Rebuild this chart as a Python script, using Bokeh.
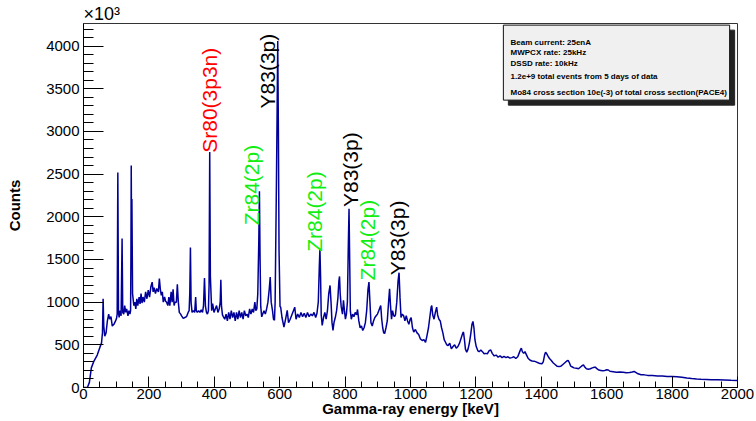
import math

from bokeh.core.properties import value
from bokeh.embed import file_html
from bokeh.models import BoxAnnotation, ColumnDataSource, Label, Range1d, SingleIntervalTicker, Title
from bokeh.plotting import figure
from bokeh.resources import INLINE

# Gamma-ray spectrum: energy (keV) and counts (in units of 10^3)
energy_kev = [
    0, 12, 18, 24, 32, 42, 50, 55, 58, 60, 62, 65, 69, 73, 77, 80, 84, 88, 93, 98,
    101, 103, 105, 107, 109, 112, 115, 118, 120, 123, 126, 129, 132, 136, 139, 142, 144,
    145, 146, 147, 148, 150, 154, 157,
    160, 163, 166, 170, 173, 176, 179, 182, 186, 190, 194, 198, 202, 206, 210, 213, 216,
    220, 224, 229, 232, 235, 238, 241, 244, 248, 251, 254, 258, 261, 264, 268, 271, 274,
    277, 280, 284, 287, 290, 293, 297,
    300, 305, 310, 315, 320, 323, 325, 327, 329, 332, 336, 340, 343, 345, 348, 352, 356,
    360, 364, 367, 370, 373, 376, 379, 382, 384, 386, 388, 392, 395, 399, 403, 407, 411,
    415, 418, 420, 422, 425, 428,
    432, 436, 440, 444, 448, 452, 456, 460, 464, 468, 472, 476, 480, 484, 488, 492, 496,
    500, 504, 508, 512, 516, 520, 524, 527, 530, 533, 536, 538, 540, 542, 545, 548, 552,
    556, 560, 564, 568, 571, 574, 578, 581, 584, 586, 590, 592, 594, 596, 598, 601,
    603, 607, 613, 618, 623, 627, 632, 637, 642, 646, 650, 655, 660, 665, 670, 675, 680,
    685, 690, 695, 700, 705, 710, 714, 718, 721, 723, 725, 727, 730, 734, 738, 742, 746,
    750, 754, 757, 760, 763, 766, 770, 774, 778, 781, 783, 785, 788, 792, 795, 798, 801,
    804, 807, 810, 812, 814, 816, 819, 823, 827, 831, 835, 838, 842, 846, 850, 854, 858,
    862, 866, 870, 873, 876, 879, 883, 887, 891, 895, 899, 903, 906, 909, 912, 915, 918,
    921, 925, 929, 933, 936, 939, 942, 945, 948, 951, 954, 958, 962, 965, 968, 971, 975,
    979, 983, 987, 991, 995, 999,
    1002, 1006, 1010, 1015, 1020, 1025, 1030, 1036, 1041, 1046, 1050, 1055, 1060, 1063,
    1065, 1068, 1072, 1076, 1080, 1083, 1087, 1091, 1095, 1099, 1103, 1107, 1111, 1115,
    1120, 1125, 1130, 1135, 1140, 1145, 1150, 1155, 1160, 1162, 1165, 1168, 1172, 1176,
    1180, 1184, 1188, 1191, 1194, 1197, 1201, 1206, 1210, 1215,
    1220, 1225, 1230, 1235, 1240, 1245, 1250, 1256, 1262, 1268, 1274, 1280, 1286, 1292,
    1298, 1304, 1310, 1316, 1322, 1328, 1332, 1336, 1339, 1342, 1346, 1350, 1355, 1360,
    1366, 1372, 1378, 1384, 1390, 1396, 1402, 1406, 1410, 1413, 1416, 1420, 1425, 1430,
    1436, 1442, 1448, 1454, 1460, 1466, 1472, 1478, 1482, 1486, 1490, 1495, 1500, 1508,
    1514, 1520, 1526, 1529, 1533, 1538, 1544, 1550, 1556, 1562, 1566, 1570, 1576, 1582,
    1588, 1594, 1600, 1605, 1610, 1620, 1630, 1640, 1650, 1660, 1670, 1678, 1684, 1690,
    1696, 1705, 1715, 1725, 1740, 1755, 1770, 1785, 1800, 1815, 1830, 1845, 1860, 1875,
    1888, 1905, 1920, 1940, 1960, 1980, 2000,
]
counts_k = [
    0, 0, 60, 230, 310, 380, 470, 520, 640, 1040, 720, 600, 640, 780, 860, 800, 830, 720, 740, 780,
    810, 860, 2520, 880, 820, 900, 840, 1745, 880, 860, 960, 880, 920, 840, 900, 860, 900,
    1500, 2600, 1700, 2210, 1100, 960, 1000,
    920, 1040, 960, 1060, 980, 1100, 990, 1060, 1000, 1120, 1040, 1140, 1060, 1180, 1235, 1120, 1170,
    1100, 1160, 1120, 1277, 1150, 1080, 1120, 1000, 1060, 1010, 1000, 960, 1060, 960, 1120, 1000, 1150,
    960, 1000, 1000, 1208, 1000, 880, 860,
    840, 810, 820, 830, 880, 900, 1100, 1641, 1000, 880, 900, 880, 1059, 900, 880, 900, 880,
    910, 880, 960, 1282, 950, 880, 860, 900, 1200, 2758, 1300, 900, 983, 880, 920, 960, 880,
    920, 1000, 1262, 950, 850, 828,
    800, 860, 780, 880, 800, 900, 820, 880, 780, 880, 800, 900, 820, 880, 800, 900, 840,
    860, 820, 920, 860, 920, 880, 1000, 900, 920, 1100, 1700, 2298, 1500, 950, 828, 860, 900,
    860, 920, 1000, 1150, 1293, 1000, 900, 800, 789, 1000, 2400, 3190, 4060, 3000, 1600, 950,
    941, 820, 707, 800, 903, 760, 800, 850, 900, 941, 800, 860, 820, 880, 830, 870, 820,
    880, 830, 860, 840, 880, 820, 870, 1000, 1400, 1626, 1300, 850, 727, 820, 880, 800, 900,
    1100, 1196, 1000, 760, 668, 760, 820, 900, 1050, 1250, 1301, 1100, 950, 860, 1022, 900, 800,
    860, 1000, 1700, 2095, 1500, 900, 800, 860, 830, 880, 850, 914, 780, 700, 720, 668, 700,
    760, 900, 1150, 1235, 1000, 760, 720, 780, 820, 840, 860, 900, 930, 961, 800, 700, 640,
    633, 700, 780, 1000, 1157, 950, 800, 900, 850, 830, 850, 1000, 1250, 1345, 1050, 820, 860,
    840, 780, 840, 780, 740, 800,
    820, 700, 649, 680, 640, 620, 570, 551, 560, 530, 600, 700, 850, 940,
    961, 850, 800, 880, 941, 850, 800, 780, 700, 640, 560, 530, 500, 492,
    520, 453, 480, 500, 460, 480, 520, 580, 640, 649, 560, 450, 414, 450,
    520, 620, 740, 774, 700, 560, 480, 430, 420, 440,
    420, 395, 400, 395, 430, 442, 400, 370, 380, 355, 370, 350, 365, 350,
    360, 345, 350, 360, 340, 360, 400, 440, 461, 420, 400, 420, 380, 340,
    320, 310, 309, 300, 290, 280, 278, 300, 380, 414, 400, 370, 340, 320,
    290, 270, 250, 246, 250, 270, 290, 310, 317, 290, 250, 240, 230, 225,
    219, 240, 260, 266, 240, 220, 215, 220, 230, 238, 236, 220, 205, 200,
    195, 200, 207, 205, 190, 185, 180, 182, 178, 172, 176, 182, 188, 175,
    160, 150, 148, 142, 140, 136, 134, 130, 129, 126, 120, 112, 105, 100,
    97, 95, 92, 90, 87, 84, 82,
]

# Isotope tags placed above their gamma lines
tag_text = ["Sr80(3p3n)", "Zr84(2p)", "Y83(3p)", "Zr84(2p)", "Y83(3p)", "Zr84(2p)", "Y83(3p)"]
tag_kev = [386, 513, 562, 705, 818, 868, 960]
tag_counts = [2750, 1900, 3270, 1590, 2115, 1255, 1315]
tag_color = ["#ff0000", "#11ee11", "#000000", "#11ee11", "#000000", "#11ee11", "#000000"]

# Run conditions shown in the info pave
info_lines = [
    "Beam current: 25enA",
    "MWPCX rate: 25kHz",
    "DSSD rate: 10kHz",
    "1.2e+9 total events from 5 days of data",
    "Mo84 cross section 10e(-3) of total cross section(PACE4)",
]
info_line_counts = [4038, 3925, 3796, 3639, 3456]

X_MAX = 2000
Y_MAX = 4265
FONT = "Liberation Sans"

p = figure(
    width=756, height=421,
    x_range=Range1d(0, X_MAX), y_range=Range1d(0, Y_MAX),
    output_backend="svg", toolbar_location=None,
    min_border_left=83, min_border_right=19, min_border_top=23, min_border_bottom=34,
    background_fill_color="white", border_fill_color="white",
)
p.grid.visible = False
p.outline_line_color = "#333333"
p.outline_line_width = 1

p.xaxis.ticker = SingleIntervalTicker(interval=200, num_minor_ticks=4)
p.yaxis.ticker = SingleIntervalTicker(interval=500, num_minor_ticks=5)

for ax in (p.xaxis, p.yaxis):
    ax.major_tick_out = 0
    ax.minor_tick_out = 0
    ax.axis_line_color = "black"
    ax.major_tick_line_color = "black"
    ax.minor_tick_line_color = "black"
    ax.major_label_text_font = FONT
    ax.major_label_text_font_size = "15px"
    ax.major_label_text_color = "black"
    ax.axis_label_text_font = FONT
    ax.axis_label_text_font_size = "15px"
    ax.axis_label_text_font_style = "bold"
    ax.axis_label_text_color = "black"

p.xaxis.major_tick_in = 11
p.xaxis.minor_tick_in = 6
p.yaxis.major_tick_in = 20
p.yaxis.minor_tick_in = 10
p.xaxis.major_label_standoff = 1
p.yaxis.major_label_standoff = 4
p.xaxis.axis_label = "Gamma-ray energy [keV]"
p.yaxis.axis_label = "Counts"
p.xaxis.axis_label_standoff = -2
p.yaxis.axis_label_standoff = 20

# Exponent marker for the count axis, sitting just above the frame
p.add_layout(Title(text="×10³", align="left", offset=0, standoff=0,
                   text_font=FONT, text_font_size="18px", text_font_style="normal",
                   text_color="black"), "above")

# Spectrum
p.line(energy_kev, counts_k, line_color="#000099", line_width=1.5)

# Isotope tags
tags = ColumnDataSource(dict(x=tag_kev, y=tag_counts, text=tag_text, color=tag_color))
p.text(x="x", y="y", text="text", source=tags, angle=math.pi / 2,
       text_align="left", text_baseline="middle", text_color="color",
       text_font=value(FONT), text_font_size="21px")

# Info pave with drop shadow
px_to_kev = X_MAX / 654.0
px_to_k = 1 / 0.08525
box_l, box_r = 1284, 1976
box_t, box_b = 4246, 3367
shadow = 5
p.add_layout(BoxAnnotation(left=box_l + shadow * px_to_kev, right=box_r + shadow * px_to_kev,
                           top=box_t - shadow * px_to_k, bottom=box_b - shadow * px_to_k,
                           fill_color="#222222", fill_alpha=1, line_color="#222222",
                           line_alpha=1))
p.add_layout(BoxAnnotation(left=box_l, right=box_r, top=box_t, bottom=box_b,
                           fill_color="#f0f0f0", fill_alpha=1, line_color="#111111",
                           line_alpha=1, line_width=1))
for line_text, yv in zip(info_lines, info_line_counts):
    p.add_layout(Label(x=1306, y=yv, text=line_text, text_font=FONT, text_font_size="8px",
                       text_font_style="bold", text_baseline="middle", text_align="left",
                       text_color="black"))

open("out.html", "w").write(file_html(p, INLINE))
